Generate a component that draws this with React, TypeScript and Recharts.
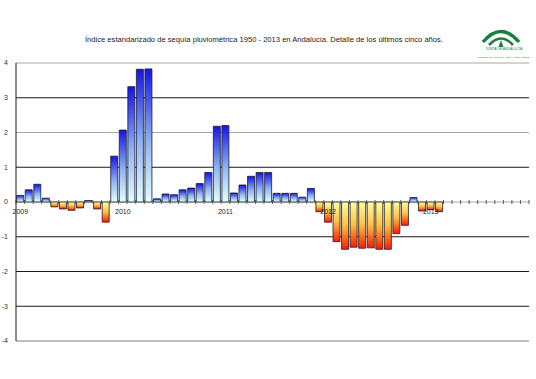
import React from 'react';
import { BarChart, Bar, XAxis, YAxis, CartesianGrid, Cell } from 'recharts';

const years = ['2009', '2010', '2011', '2012', '2013'];
const months = ['01', '02', '03', '04', '05', '06', '07', '08', '09', '10', '11', '12'];

// indice mensual, ene 2009 - feb 2013
const values = [
  0.19, 0.35, 0.51, 0.11, -0.14, -0.2, -0.24, -0.17, 0.04, -0.2, -0.58, 1.32,
  2.07, 3.32, 3.82, 3.83, 0.09, 0.23, 0.21, 0.35, 0.4, 0.53, 0.85, 2.18,
  2.2, 0.26, 0.49, 0.74, 0.85, 0.85, 0.25, 0.25, 0.25, 0.14, 0.39, -0.28,
  -0.58, -1.14, -1.36, -1.3, -1.33, -1.32, -1.36, -1.36, -0.91, -0.67, 0.13, -0.26,
  -0.22, -0.28,
];

const yTicks = [-4, -3, -2, -1, 0, 1, 2, 3, 4];
const lightLines = [4, 2, 0, -4];

const categories = years.flatMap((y) => months.map((m) => `${y}-${m}`));
const data = categories.map((month, i) => ({ month, value: i < values.length ? values[i] : null }));

const W = 536;
const H = 379;
const MARGIN = { top: 63, right: 7, bottom: 0, left: 0 };
const Y_AXIS_W = 16;
const X_AXIS_H = 38;
const PLOT_W = W - MARGIN.left - MARGIN.right - Y_AXIS_W;
const PLOT_H = H - MARGIN.top - MARGIN.bottom - X_AXIS_H;
const ZERO_Y = MARGIN.top + PLOT_H / 2;
const BAND = PLOT_W / categories.length;
const FONT = 'Liberation Sans, Arial, sans-serif';

const MonthTick = (props: any) => {
  const { x, payload, index } = props;
  const [year, month] = String(payload.value).split('-');
  const left = x - BAND / 2;
  return (
    <g>
      <line x1={left} x2={left} y1={ZERO_Y - 2} y2={ZERO_Y + 2} stroke="#333" strokeWidth={0.8} />
      {index === categories.length - 1 && (
        <line x1={x + BAND / 2} x2={x + BAND / 2} y1={ZERO_Y - 2} y2={ZERO_Y + 2} stroke="#333" strokeWidth={0.8} />
      )}
      {month === '01' && (
        <text x={x} y={ZERO_Y + 12} textAnchor="middle" fontSize={7} fill="#222" fontFamily={FONT}>
          {year}
        </text>
      )}
    </g>
  );
};

const GridLine = (props: any) => {
  const { x1, x2, y1 } = props;
  const v = Math.round(4 - ((y1 - MARGIN.top) / PLOT_H) * 8);
  const light = lightLines.includes(v);
  return <line x1={x1} x2={x2} y1={y1} y2={y1} stroke={light ? '#a8a8a8' : '#1a1a1a'} strokeWidth={1} />;
};

export default function App() {
  return (
    <div style={{ position: 'absolute', left: 0, top: 0, width: W, height: H, background: '#fff' }}>
      <svg width={W} height={H} style={{ position: 'absolute', left: 0, top: 0 }}>
        <text x={264} y={41.5} textAnchor="middle" fontSize={7.6} fill="#222" fontFamily={FONT}>
          Índice estandarizado de sequía pluviométrica 1950 - 2013 en Andalucía.  Detalle de los últimos cinco años.
        </text>
        <g fill="none" stroke="#17803d" strokeLinecap="butt">
          <path d="M483 42 Q501 21 519 42" strokeWidth={3.4} />
          <path d="M489 45 Q501 32 513 45" strokeWidth={2.6} />
        </g>
        <path d="M501 40 L503.5 47 L498.5 47 Z" fill="#17803d" />
        <text x={504} y={50} textAnchor="middle" fontSize={3.4} fill="#17803d" fontFamily={FONT}>
          JUNTA DE ANDALUCIA
        </text>
        <text x={503.5} y={57.5} textAnchor="middle" fontSize={1.8} fill="#17803d" fontFamily={FONT}>
          CONSEJERÍA DE AGRICULTURA, PESCA Y MEDIO AMBIENTE
        </text>
      </svg>
      <div style={{ position: 'absolute', left: 0, top: 0 }}>
        <BarChart width={W} height={H} data={data} margin={MARGIN} barCategoryGap="8%">
          <defs>
            <linearGradient id="gradPos" x1="0" y1="0" x2="0" y2="1">
              <stop offset="0%" stopColor="#1414e6" />
              <stop offset="55%" stopColor="#8fb4f5" />
              <stop offset="100%" stopColor="#e2ffff" />
            </linearGradient>
            <linearGradient id="gradNeg" x1="0" y1="0" x2="0" y2="1">
              <stop offset="0%" stopColor="#ffffa0" />
              <stop offset="50%" stopColor="#ffc040" />
              <stop offset="100%" stopColor="#ff1a00" />
            </linearGradient>
          </defs>
          <CartesianGrid vertical={false} horizontal={GridLine} />
          <XAxis
            dataKey="month"
            interval={0}
            height={X_AXIS_H}
            axisLine={{ stroke: '#a8a8a8' }}
            tickLine={false}
            tick={MonthTick}
          />
          <YAxis
            width={Y_AXIS_W}
            domain={[-4, 4]}
            ticks={yTicks}
            allowDataOverflow
            axisLine={{ stroke: '#1a1a1a' }}
            tickLine={false}
            tick={{ fontSize: 7, fill: '#333', fontFamily: FONT }}
          />
          <Bar dataKey="value" isAnimationActive={false} stroke="#1a1a2a" strokeWidth={0.8}>
            {data.map((d) => (
              <Cell key={d.month} fill={d.value !== null && d.value < 0 ? 'url(#gradNeg)' : 'url(#gradPos)'} />
            ))}
          </Bar>
        </BarChart>
      </div>
    </div>
  );
}
